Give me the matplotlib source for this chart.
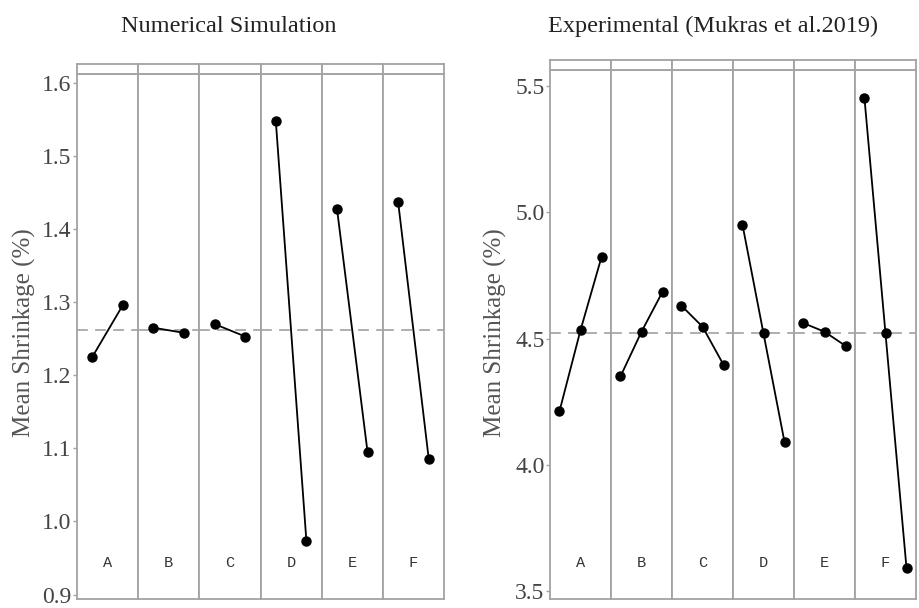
import numpy as np
import matplotlib
matplotlib.use("Agg")
import matplotlib.pyplot as plt

factors = ["A", "B", "C", "D", "E", "F"]

# numerical simulation, two levels per factor
sim_vals = [
    [1.225, 1.296],
    [1.265, 1.258],
    [1.270, 1.253],
    [1.548, 0.974],
    [1.428, 1.095],
    [1.437, 1.086],
]
sim_ticks = [0.9, 1.0, 1.1, 1.2, 1.3, 1.4, 1.5, 1.6]

# experimental, three levels per factor
exp_vals = [
    [4.213, 4.534, 4.824],
    [4.351, 4.528, 4.686],
    [4.631, 4.548, 4.397],
    [4.952, 4.521, 4.091],
    [4.562, 4.528, 4.472],
    [5.452, 4.521, 3.591],
]
exp_ticks = [3.5, 4.0, 4.5, 5.0, 5.5]

W, H = 919, 608
GRID = "#a3a3a3"
serif = "Liberation Serif"


def px(x0, y_top, w, h):
    return [x0 / W, 1 - (y_top + h) / H, w / W, h / H]


def panel(fig, vals, ticks, x0, x1, y_strip, y_top, y_bot, ylim, xlim):
    fw = (x1 - x0) / len(vals)
    grand = np.mean([np.mean(v) for v in vals])
    for i, (name, v) in enumerate(zip(factors, vals)):
        ax = fig.add_axes(px(x0 + i * fw, y_top, fw, y_bot - y_top))
        lv = np.arange(1, len(v) + 1)
        ax.axhline(grand, color="#a8a8a8", lw=1.3, dashes=(6, 4), zorder=1)
        ax.plot(lv, v, color="black", lw=1.3, marker="o", ms=6.5, zorder=3)
        ax.set_xlim(*xlim)
        ax.set_ylim(*ylim)
        ax.set_xticks([])
        ax.text(0.5, 0.068, name, transform=ax.transAxes, ha="center", va="center",
                family="Liberation Mono", fontsize=11, color="#333333")
        for s in ax.spines.values():
            s.set_color(GRID)
            s.set_linewidth(1.3)
        if i == 0:
            ax.set_yticks(ticks)
            ax.set_yticklabels(["%.1f" % t for t in ticks], family=serif,
                               fontsize=17, color="#444444")
            ax.tick_params(axis="y", length=3, width=1, color=GRID, pad=1)
        else:
            ax.set_yticks([])
        st = fig.add_axes(px(x0 + i * fw, y_strip, fw, y_top - y_strip))
        st.set_xticks([])
        st.set_yticks([])
        for s in st.spines.values():
            s.set_color(GRID)
            s.set_linewidth(1.3)


fig = plt.figure(figsize=(W / 100, H / 100), dpi=100)

panel(fig, sim_vals, sim_ticks, 77, 444, 63.5, 74, 599, (0.894, 1.612), (0.5, 2.5))
panel(fig, exp_vals, exp_ticks, 550, 916, 60, 70, 599, (3.47, 5.564), (0.55, 3.45))

fig.text(229 / W, 1 - 26 / H, "Numerical Simulation", ha="center", va="center",
         family=serif, fontsize=17.5, color="#222222")
fig.text(713 / W, 1 - 26 / H, "Experimental (Mukras et al.2019)", ha="center", va="center",
         family=serif, fontsize=17.5, color="#222222")
fig.text(24 / W, 1 - 333 / H, "Mean Shrinkage (%)", rotation=90, ha="center", va="center",
         family=serif, fontsize=18, color="#555555")
fig.text(495 / W, 1 - 333 / H, "Mean Shrinkage (%)", rotation=90, ha="center", va="center",
         family=serif, fontsize=18, color="#555555")

fig.savefig("out.png", dpi=100)
